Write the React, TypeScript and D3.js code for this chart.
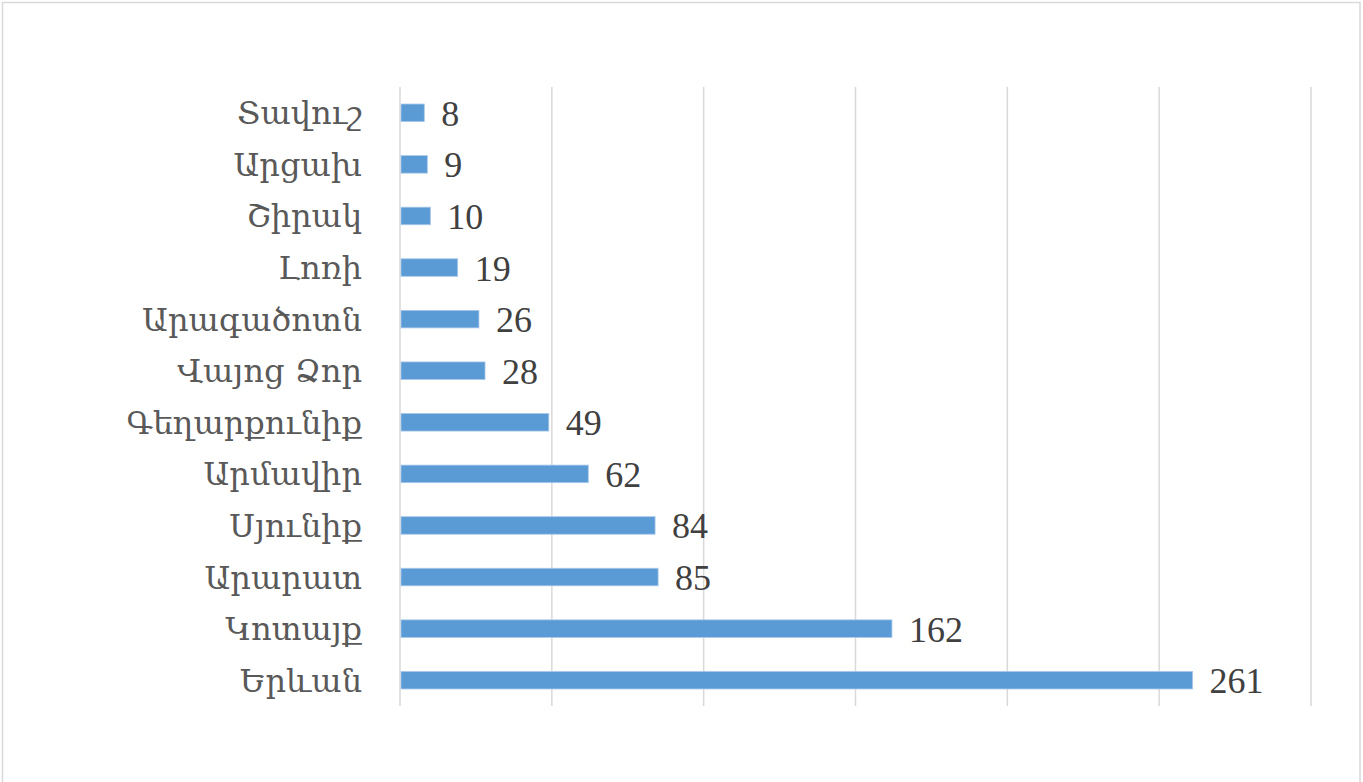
import React, { useEffect, useRef } from "react";
import * as d3 from "d3";

const categories = [
  "Տավուշ",
  "Արցախ",
  "Շիրակ",
  "Լոռի",
  "Արագածոտն",
  "Վայոց Ձոր",
  "Գեղարքունիք",
  "Արմավիր",
  "Սյունիք",
  "Արարատ",
  "Կոտայք",
  "Երևան",
];
const values = [8, 9, 10, 19, 26, 28, 49, 62, 84, 85, 162, 261];
const xTicks = [0, 50, 100, 150, 200, 250, 300];

const W = 1363;
const H = 782;

export default function App() {
  const ref = useRef<SVGSVGElement>(null);

  useEffect(() => {
    const svg = d3.select(ref.current);
    svg.selectAll("*").remove();

    const x = d3.scaleLinear().domain([0, 300]).range([400, 1311]);
    const y = d3
      .scaleBand<string>()
      .domain(categories)
      .range([87, 706])
      .paddingInner(0.66)
      .paddingOuter(0.33);

    svg
      .append("rect")
      .attr("x", 0)
      .attr("y", 0)
      .attr("width", W)
      .attr("height", H)
      .attr("fill", "#ffffff");
    svg
      .append("rect")
      .attr("x", 2.5)
      .attr("y", 2.5)
      .attr("width", 1357.5)
      .attr("height", 820)
      .attr("fill", "none")
      .attr("stroke", "#d9d9d9")
      .attr("stroke-width", 1.5);

    svg
      .append("g")
      .selectAll("line")
      .data(xTicks)
      .join("line")
      .attr("x1", (d) => x(d))
      .attr("x2", (d) => x(d))
      .attr("y1", 87)
      .attr("y2", 706)
      .attr("stroke", "#d9d9d9")
      .attr("stroke-width", 1.5);

    svg
      .append("g")
      .selectAll("rect")
      .data(values)
      .join("rect")
      .attr("x", x(0) + 1)
      .attr("y", (_, i) => y(categories[i])!)
      .attr("width", (d) => x(d) - x(0) - 1)
      .attr("height", y.bandwidth())
      .attr("fill", "#5b9bd5")
      .attr("stroke", "#a9c8ea")
      .attr("stroke-width", 0.8);

    svg
      .append("g")
      .selectAll("text")
      .data(values)
      .join("text")
      .attr("x", (d) => x(d) + 17)
      .attr("y", (_, i) => y(categories[i])! + y.bandwidth() / 2)
      .attr("dy", "0.36em")
      .attr("font-family", "'Liberation Serif', 'DejaVu Serif', serif")
      .attr("font-size", 36)
      .attr("fill", "#404040")
      .text((d) => String(d));

    svg
      .append("g")
      .selectAll("text")
      .data(categories)
      .join("text")
      .attr("x", 362)
      .attr("y", (d) => y(d)! + y.bandwidth() / 2)
      .attr("dy", "0.36em")
      .attr("text-anchor", "end")
      .attr("font-family", "'DejaVu Serif', serif")
      .attr("font-size", 32)
      .attr("fill", "#595959")
      .text((d) => d);
  }, []);

  return (
    <svg
      ref={ref}
      width={W}
      height={H}
      style={{ position: "absolute", left: 0, top: 0, display: "block" }}
    />
  );
}
